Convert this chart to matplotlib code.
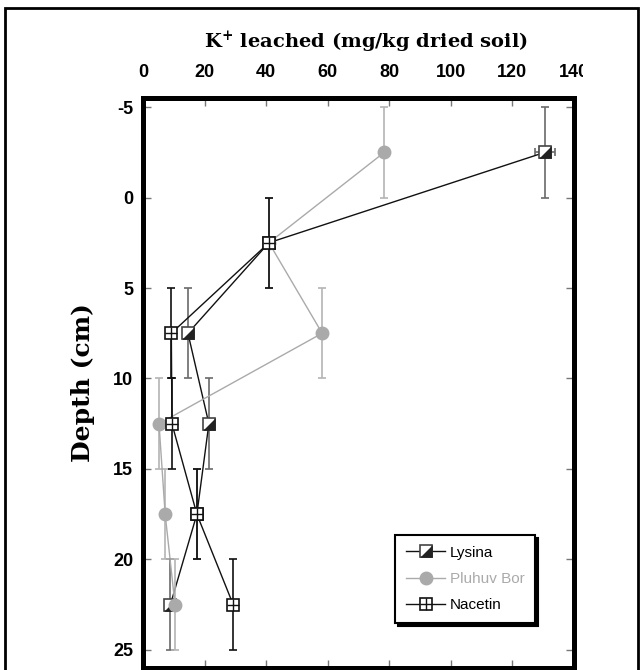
import numpy as np
import matplotlib
matplotlib.use("Agg")
import matplotlib.pyplot as plt
from matplotlib.patches import Rectangle
from matplotlib.lines import Line2D
from matplotlib.legend_handler import HandlerTuple
from matplotlib.transforms import Bbox, TransformedBbox

plt.rcParams['axes.unicode_minus'] = False
plt.rcParams['mathtext.fontset'] = 'custom'
plt.rcParams['mathtext.rm'] = 'DejaVu Serif:bold'
plt.rcParams['mathtext.bf'] = 'DejaVu Serif:bold'
plt.rcParams['mathtext.it'] = 'DejaVu Serif:bold'

# ---- data ----
depth = [-2.5, 2.5, 7.5, 12.5, 17.5, 22.5]
lysina = [130.6, 40.9, 14.6, 21.4, 17.5, 8.9]
pluhuv = [78.4, 40.9, 58.2, 5.2, 7.2, 10.4]
nacetin = [np.nan, 40.9, 9.2, 9.4, 17.5, 29.3]
depth_err = [2.5, 2.5, 2.5, 2.5, 2.5, 2.5]
lysina_xerr = [3.2, 0, 0, 0, 0, 0]
pluhuv_xerr = [1.2, 0, 0, 0, 0, 0]
series_names = ["Lysina", "Pluhuv Bor", "Nacetin"]
xticks = [0, 20, 40, 60, 80, 100, 120, 140]
yticks = [-5, 0, 5, 10, 15, 20, 25]

tick_font = ['Liberation Sans Narrow', 'Liberation Sans', 'DejaVu Sans']
serif_font = ['DejaVu Serif']

fig = plt.figure(figsize=(6.4, 6.7), dpi=100)
ax = fig.add_axes([143/640, 1-668/670, (574-143)/640, (668-98)/670])

ms = 8
tri = [(-1, -1), (1, -1), (1, 1)]

# Lysina
ax.errorbar(lysina, depth, yerr=depth_err, xerr=lysina_xerr, fmt='none',
            ecolor='#6a6a6a', elinewidth=1.2, capsize=2.8, capthick=1.2, zorder=2)
ax.plot(lysina, depth, color='#111111', lw=1.0, zorder=3)
ax.plot(lysina, depth, ls='none', marker='s', ms=ms, mfc='white', mec='#444444', mew=1.2, zorder=4)
ax.plot(lysina, depth, ls='none', marker=tri, ms=ms, mfc='#222222', mec='#222222', mew=0.5, zorder=4.1)

# Pluhuv Bor
ax.errorbar(pluhuv, depth, yerr=depth_err, xerr=pluhuv_xerr, fmt='none',
            ecolor='#b4b4b4', elinewidth=1.2, capsize=2.8, capthick=1.2, zorder=5)
ax.plot(pluhuv, depth, color='#aaaaaa', lw=1.0, zorder=5.5)
ax.plot(pluhuv, depth, ls='none', marker='o', ms=ms+1, mfc='#aaaaaa', mec='#aaaaaa', zorder=6)

# Nacetin
ax.errorbar(nacetin, depth, yerr=depth_err, fmt='none',
            ecolor='#111111', elinewidth=1.2, capsize=2.8, capthick=1.2, zorder=7)
ax.plot(nacetin, depth, color='#111111', lw=1.0, zorder=7.5)
ax.plot(nacetin, depth, ls='none', marker='s', ms=ms, mfc='white', mec='#111111', mew=1.2, zorder=8)
ax.plot(nacetin, depth, ls='none', marker='+', ms=ms, mec='#111111', mew=1.0, zorder=8.1)

ax.set_xlim(0, 140)
ax.set_ylim(26, -5.5)
ax.set_xticks(xticks)
ax.set_yticks(yticks)
ax.set_xticklabels([str(v) for v in xticks])
ax.set_yticklabels([str(v) for v in yticks])

ax.tick_params(axis='x', which='both', direction='in', top=True, bottom=True,
               labeltop=True, labelbottom=False, length=6, width=1, color='#777777', pad=12)
ax.tick_params(axis='y', which='both', direction='in', left=True, right=True,
               length=6, width=1, color='#777777', pad=7)
for lab in ax.get_yticklabels():
    lab.set_fontfamily(tick_font)
    lab.set_fontweight('bold')
    lab.set_fontsize(13)
for t in ax.xaxis.get_major_ticks():
    t.label2.set_fontfamily(tick_font)
    t.label2.set_fontweight('bold')
    t.label2.set_fontsize(13)
    t.label2.set_clip_on(True)
    t.label2.set_clip_box(TransformedBbox(Bbox([[0, 0], [583/640, 1]]), fig.transFigure))

for sp in ax.spines.values():
    sp.set_linewidth(3.6)
    sp.set_color('black')

ax.set_ylabel("Depth (cm)", fontfamily=serif_font, fontweight='bold', fontsize=18)
ax.yaxis.set_label_coords((95-143)/431, 0.5)

fig.text(366/640, 1-42/670, "K$^{+}$ leached (mg/kg dried soil)", ha='center', va='center',
         fontfamily=serif_font, fontweight='bold', fontsize=14)

# legend
h_lys = (Line2D([], [], color='#111111', lw=1.0, marker='s', ms=ms, mfc='white', mec='#444444', mew=1.2),
         Line2D([], [], ls='none', marker=tri, ms=ms, mfc='#222222', mec='#222222', mew=0.5))
h_plu = Line2D([], [], color='#aaaaaa', lw=1.0, marker='o', ms=ms+1, mfc='#aaaaaa', mec='#aaaaaa')
h_nac = (Line2D([], [], color='#111111', lw=1.0, marker='s', ms=ms, mfc='white', mec='#111111', mew=1.2),
         Line2D([], [], ls='none', marker='+', ms=ms, mec='#111111', mew=1.0))
leg = ax.legend([h_lys, h_plu, h_nac], series_names,
                handler_map={tuple: HandlerTuple(ndivide=1, pad=0)},
                loc='upper left', bbox_to_anchor=((395-143)/431, (668-535)/570),
                frameon=True, fancybox=False, shadow={'color': 'black', 'alpha': 1},
                borderaxespad=0, handlelength=2.6, handletextpad=0.3,
                labelspacing=0.8, borderpad=0.7,
                prop={'family': tick_font, 'size': 11})
leg.get_frame().set_edgecolor('black')
leg.get_frame().set_linewidth(1.5)
leg.get_texts()[1].set_color('#aaaaaa')
leg.set_zorder(20)

# outer border
fig.patches.append(Rectangle((5/640, -0.05), (638-5)/640, 1-8/670+0.05,
                             transform=fig.transFigure, fill=False,
                             edgecolor='black', linewidth=2.0))

fig.savefig("out.png", dpi=100)
